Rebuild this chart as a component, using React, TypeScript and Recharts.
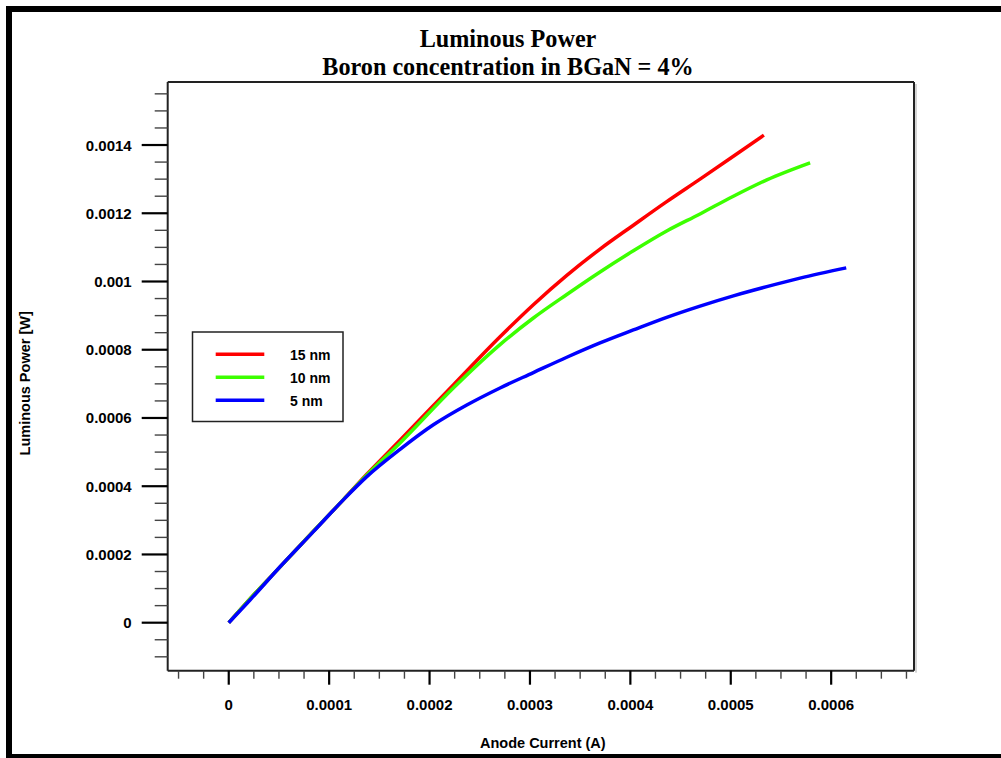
import { LineChart, Line, XAxis, YAxis } from "recharts";

// anode current (A) / luminous power (W)
const RED_X = [0, 0.00002, 0.00005, 0.000085, 0.000114, 0.0001375, 0.0001706, 0.0002237, 0.0002702, 0.0003034, 0.0003367, 0.0003698, 0.000403, 0.0004362, 0.0004694, 0.0005026, 0.000533];
const RED_Y = [0, 0.000066, 0.00016, 0.00027, 0.00036, 0.000435, 0.000535, 0.000697, 0.000838, 0.000932, 0.001018, 0.001095, 0.001165, 0.001234, 0.0013, 0.001367, 0.001429];

const GREEN_X = [0, 0.00002, 0.00005, 0.000085, 0.000114, 0.0001375, 0.0001706, 0.0002237, 0.0002702, 0.0003034, 0.0003367, 0.0003698, 0.000403, 0.0004362, 0.0004694, 0.0005026, 0.0005359, 0.000579];
const GREEN_Y = [0, 0.000066, 0.00016, 0.00027, 0.00036, 0.000433, 0.000527, 0.000688, 0.000815, 0.000893, 0.000962, 0.001028, 0.00109, 0.001148, 0.001198, 0.00125, 0.001298, 0.001348];

const BLUE_X = [0, 0.0000212, 0.0000511, 0.0000843, 0.0001141, 0.0001375, 0.0001706, 0.0002038, 0.0002371, 0.0002702, 0.0003034, 0.0003367, 0.0003698, 0.000403, 0.0004362, 0.0004694, 0.0005026, 0.0005359, 0.000569, 0.000615];
const BLUE_Y = [0, 0.0000665, 0.000164, 0.000267, 0.00036, 0.000428, 0.000508, 0.00058, 0.000638, 0.000688, 0.000733, 0.000778, 0.00082, 0.000858, 0.000895, 0.000928, 0.000958, 0.000985, 0.00101, 0.00104];

const SERIES = [
  { name: "15 nm", color: "#ff0000", xs: RED_X, ys: RED_Y },
  { name: "10 nm", color: "#3cff00", xs: GREEN_X, ys: GREEN_Y },
  { name: "5 nm", color: "#0000ff", xs: BLUE_X, ys: BLUE_Y },
];

const X_DOMAIN = [-0.0000608, 0.0006825];
const Y_DOMAIN = [-0.0001407, 0.0015847];

const X_MAJOR = [0, 0.0001, 0.0002, 0.0003, 0.0004, 0.0005, 0.0006];
const X_LABELS = ["0", "0.0001", "0.0002", "0.0003", "0.0004", "0.0005", "0.0006"];
const X_TICKS = [
  -0.00005, -0.000025, 0, 0.000025, 0.00005, 0.000075, 0.0001, 0.000125, 0.00015, 0.000175,
  0.0002, 0.000225, 0.00025, 0.000275, 0.0003, 0.000325, 0.00035, 0.000375, 0.0004, 0.000425,
  0.00045, 0.000475, 0.0005, 0.000525, 0.00055, 0.000575, 0.0006, 0.000625, 0.00065, 0.000675,
];

const Y_MAJOR = [0, 0.0002, 0.0004, 0.0006, 0.0008, 0.001, 0.0012, 0.0014];
const Y_LABELS = ["0", "0.0002", "0.0004", "0.0006", "0.0008", "0.001", "0.0012", "0.0014"];
const Y_TICKS = [
  -0.0001, -0.00005, 0, 0.00005, 0.0001, 0.00015, 0.0002, 0.00025, 0.0003, 0.00035, 0.0004,
  0.00045, 0.0005, 0.00055, 0.0006, 0.00065, 0.0007, 0.00075, 0.0008, 0.00085, 0.0009, 0.00095,
  0.001, 0.00105, 0.0011, 0.00115, 0.0012, 0.00125, 0.0013, 0.00135, 0.0014, 0.00145, 0.0015, 0.00155,
];

const SANS = "'Liberation Sans', Arial, sans-serif";
const SERIF = "'Liberation Serif', 'Times New Roman', serif";

const majorIndex = (list: number[], v: number) => list.findIndex((m) => Math.abs(m - v) < 1e-10);

function XTick({ x, y, payload }: any) {
  const i = majorIndex(X_MAJOR, payload.value);
  const major = i >= 0;
  return (
    <g>
      <line x1={x} x2={x} y1={y} y2={y + (major ? 14 : 8)} stroke={major ? "#000" : "#444"} strokeWidth={major ? 2.2 : 1.4} />
      {major && (
        <text x={x} y={y + 34} textAnchor="middle" dominantBaseline="central" fontFamily={SANS} fontWeight="bold" fontSize={15} fill="#000">
          {X_LABELS[i]}
        </text>
      )}
    </g>
  );
}

function YTick({ x, y, payload }: any) {
  const i = majorIndex(Y_MAJOR, payload.value);
  const major = i >= 0;
  return (
    <g>
      <line x1={x} x2={x - (major ? 26 : 13)} y1={y} y2={y} stroke={major ? "#000" : "#444"} strokeWidth={major ? 2.2 : 1.4} />
      {major && (
        <text x={x - 36} y={y} textAnchor="end" dominantBaseline="central" fontFamily={SANS} fontWeight="bold" fontSize={15} fill="#000">
          {Y_LABELS[i]}
        </text>
      )}
    </g>
  );
}

function YTitle({ viewBox }: any) {
  const cx = 25;
  const cy = viewBox.y + viewBox.height / 2 + 7;
  return (
    <text x={cx} y={cy} transform={`rotate(-90 ${cx} ${cy})`} textAnchor="middle" dominantBaseline="central" fontFamily={SANS} fontWeight="bold" fontSize={14.5} fill="#000">
      Luminous Power [W]
    </text>
  );
}

function XTitle({ viewBox }: any) {
  const cx = viewBox.x + viewBox.width / 2 + 2;
  return (
    <text x={cx} y={743} textAnchor="middle" dominantBaseline="central" fontFamily={SANS} fontWeight="bold" fontSize={14.5} fill="#000">
      Anode Current (A)
    </text>
  );
}

// plot box, matches the chart margins below
const PLOT = { left: 167.7, top: 82, right: 914, bottom: 670.7 };

export default function App() {
  return (
    <div style={{ position: "absolute", left: 0, top: 0, width: 1001, height: 758, background: "#fff", overflow: "hidden" }}>
      <LineChart width={1001} height={758} margin={{ top: PLOT.top, right: 1001 - PLOT.right, bottom: 0, left: 0 }}>
        <XAxis
          dataKey="x"
          type="number"
          domain={X_DOMAIN}
          allowDataOverflow
          ticks={X_TICKS}
          interval={0}
          height={758 - PLOT.bottom}
          tickSize={0}
          tickMargin={0}
          tickLine={false}
          tick={<XTick />}
          axisLine={{ stroke: "#222", strokeWidth: 2 }}
          label={<XTitle />}
        />
        <YAxis
          type="number"
          domain={Y_DOMAIN}
          allowDataOverflow
          ticks={Y_TICKS}
          interval={0}
          width={PLOT.left}
          tickSize={0}
          tickMargin={0}
          tickLine={false}
          tick={<YTick />}
          axisLine={{ stroke: "#222", strokeWidth: 2 }}
          label={<YTitle />}
        />
        {SERIES.map((s) => (
          <Line
            key={s.name}
            name={s.name}
            data={s.xs.map((x, i) => ({ x, y: s.ys[i] }))}
            dataKey="y"
            type="monotone"
            stroke={s.color}
            strokeWidth={3.5}
            dot={false}
            isAnimationActive={false}
          />
        ))}
      </LineChart>

      <svg width={1001} height={758} style={{ position: "absolute", left: 0, top: 0, pointerEvents: "none" }}>
        {/* top and right edges of the plot frame, with the grey shadow on the right */}
        <line x1={PLOT.left} x2={PLOT.right} y1={PLOT.top} y2={PLOT.top} stroke="#222" strokeWidth={2} />
        <line x1={PLOT.right} x2={PLOT.right} y1={PLOT.top} y2={PLOT.bottom} stroke="#222" strokeWidth={2} />
        <line x1={PLOT.right + 2} x2={PLOT.right + 2} y1={PLOT.top + 2} y2={PLOT.bottom + 2} stroke="#aaa" strokeWidth={1} />

        <text x={508} y={47} textAnchor="middle" fontFamily={SERIF} fontWeight="bold" fontSize={24.2} fill="#000">
          Luminous Power
        </text>
        <text x={508} y={75} textAnchor="middle" fontFamily={SERIF} fontWeight="bold" fontSize={24.2} fill="#000">
          Boron concentration in BGaN = 4%
        </text>

        <rect x={192.5} y={332} width={150.5} height={89.5} fill="#fff" stroke="#222" strokeWidth={1.5} />
        {SERIES.map((s, i) => (
          <g key={s.name}>
            <line x1={215.7} x2={264.3} y1={354.3 + i * 23} y2={354.3 + i * 23} stroke={s.color} strokeWidth={3.5} />
            <text x={290} y={355 + i * 23} dominantBaseline="central" fontFamily={SANS} fontWeight="bold" fontSize={14} fill="#000">
              {s.name}
            </text>
          </g>
        ))}
      </svg>

      <div
        style={{
          position: "absolute",
          left: 6,
          top: 6,
          width: 1010,
          height: 752,
          boxSizing: "border-box",
          borderLeft: "6px solid #000",
          borderTop: "6px solid #000",
          borderBottom: "4px solid #000",
          pointerEvents: "none",
        }}
      />
    </div>
  );
}
